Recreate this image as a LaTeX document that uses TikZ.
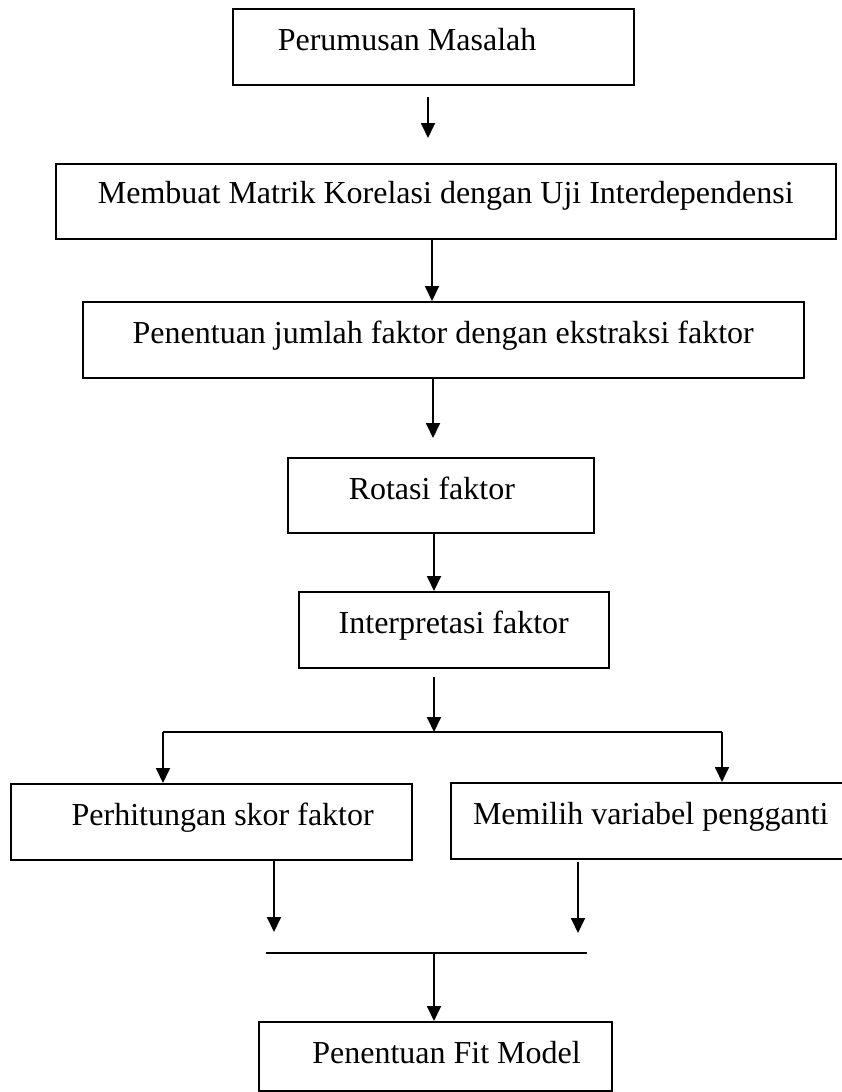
\documentclass[tikz,border=0pt]{standalone}
\usepackage{fontspec}
\setmainfont{Liberation Serif}
\usetikzlibrary{arrows.meta}

\begin{document}
\begin{tikzpicture}[x=1pt,y=-1pt,>={Triangle[length=15pt,width=14pt]},
  blk/.style={draw, line width=1.5pt, anchor=north west, inner ysep=0pt, text height=42pt, text depth=34pt, font=\fontsize{32pt}{38pt}\selectfont},
  lft/.style={align=flush left}, rgt/.style={align=flush right},
  conn/.style={line width=1.8pt}]
    \useasboundingbox (0,0) rectangle (842,1092);
    \clip (0,0) rectangle (842,1092);
    % boxes
    \node [blk, lft, inner xsep=45pt, text width=311pt] (perumusan) at (232,8) {Perumusan Masalah};
    \node [blk, inner xsep=0pt, minimum width=780pt, text height=40pt, text depth=35pt] (matrik) at (55,163) {Membuat Matrik Korelasi dengan Uji Interdependensi};
    \node [blk, inner xsep=0pt, minimum width=721pt] (jumlah) at (82,301) {Penentuan jumlah faktor dengan ekstraksi faktor};
    \node [blk, lft, inner xsep=61pt, text width=184pt, text depth=33pt] (rotasi) at (287,457) {Rotasi faktor};
    \node [blk, inner xsep=0pt, minimum width=310pt] (interp) at (298,591) {Interpretasi faktor};
    \node [blk, rgt, inner xsep=38pt, text width=325pt] (skor) at (10,783) {Perhitungan skor faktor};
    \node [blk, inner xsep=0pt, minimum width=400pt] (pengganti) at (450,782) {Memilih variabel pengganti};
    \node [blk, rgt, inner xsep=31pt, text width=291pt, text depth=27pt] (fitm) at (258,1021) {Penentuan Fit Model};
    % connector points
    \coordinate (a1s) at (428,97);
    \coordinate (a1e) at (428,138);
    \coordinate (x2) at (432,0);
    \coordinate (x3) at (433,0);
    \coordinate (a3e) at (433,438);
    \coordinate (x4) at (434,0);
    \coordinate (a5s) at (434,677);
    \coordinate (split) at (434,732);
    \coordinate (splitL) at (163,732);
    \coordinate (splitR) at (722,732);
    \coordinate (x6) at (274,0);
    \coordinate (a6e) at (274,932);
    \coordinate (a7s) at (578,862);
    \coordinate (a7e) at (578,933);
    \coordinate (joinL) at (266,953);
    \coordinate (joinR) at (587,953);
    \coordinate (join) at (434,953);
    % connectors
    \draw [->, conn] (a1s) -- (a1e);
    \draw [->, conn] (matrik.south -| x2) -- (jumlah.north -| x2);
    \draw [->, conn] (jumlah.south -| x3) -- (a3e);
    \draw [->, conn] (rotasi.south -| x4) -- (interp.north -| x4);
    \draw [->, conn] (a5s) -- (split);
    \draw [conn] (splitL) -- (splitR);
    \draw [->, conn] (splitL) -- (skor.north -| splitL);
    \draw [->, conn] (splitR) -- (pengganti.north -| splitR);
    \draw [->, conn] (skor.south -| x6) -- (a6e);
    \draw [->, conn] (a7s) -- (a7e);
    \draw [conn] (joinL) -- (joinR);
    \draw [->, conn] (join) -- (fitm.north -| join);
\end{tikzpicture}
\end{document}
